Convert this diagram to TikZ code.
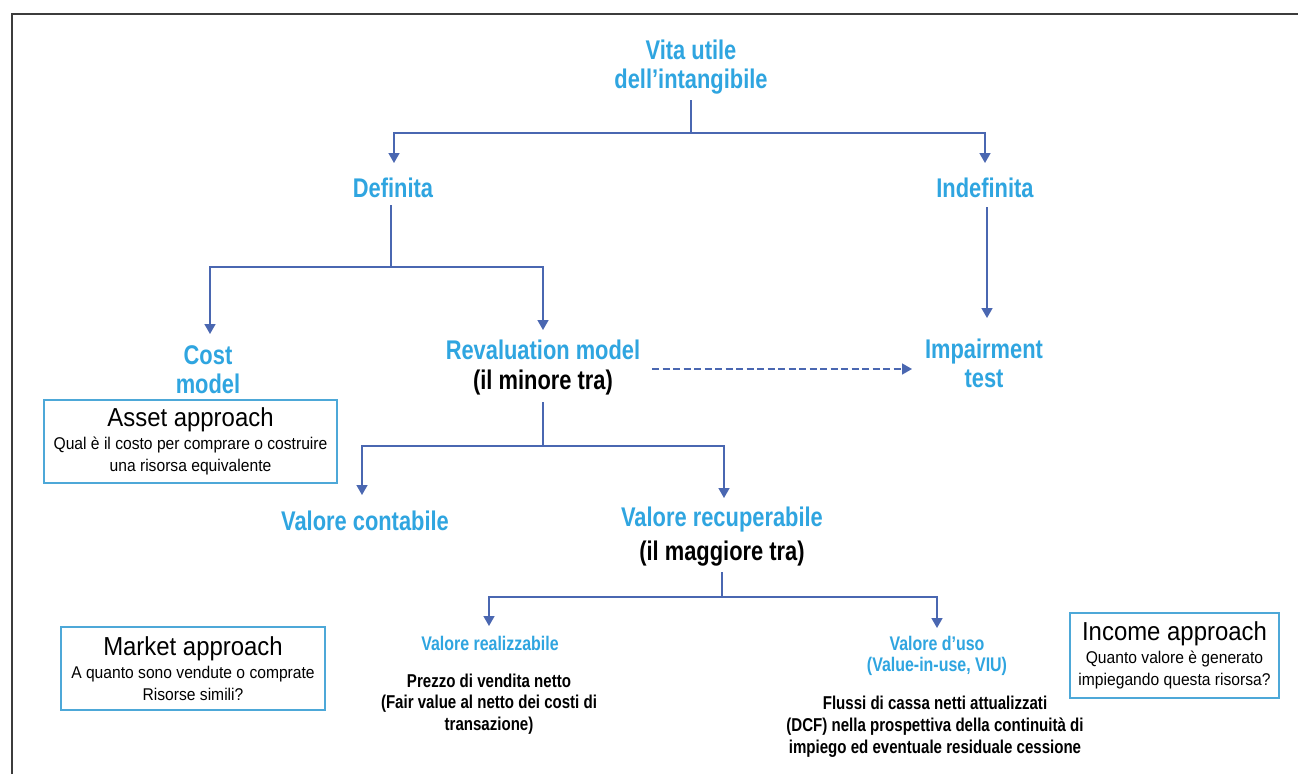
\documentclass[tikz,border=0pt]{standalone}
\usepackage{fontspec}
\setmainfont{Liberation Sans}
\newfontfamily\hdfont{Liberation Sans}[FakeStretch=0.81]
\newfontfamily\bxfont{Liberation Sans}[FakeStretch=0.92]
\usetikzlibrary{arrows.meta}
\definecolor{txtblue}{HTML}{2FA5E0}
\definecolor{connblue}{HTML}{4A67B1}
\definecolor{boxblue}{HTML}{4DA8D8}
\definecolor{framegray}{HTML}{3C3C3C}
\tikzset{
  big/.style={font=\hdfont\bfseries\fontsize{27}{29}\selectfont, text=txtblue, align=center, inner sep=0pt},
  bigblack/.style={font=\hdfont\bfseries\fontsize{27}{29}\selectfont, text=black, align=center, inner sep=0pt},
  mid/.style={font=\hdfont\bfseries\fontsize{19.7}{21.5}\selectfont, text=txtblue, align=center, inner sep=0pt},
  small/.style={font=\hdfont\bfseries\fontsize{18.6}{21.8}\selectfont, text=black, align=center, inner sep=0pt},
  conn/.style={draw=connblue, line width=1.6pt},
  arr/.style={conn, -{Triangle[width=11pt,length=10pt]}},
  dasharr/.style={arr, dash pattern=on 7pt off 3.5pt},
  appbox/.style={draw=boxblue, line width=2pt, align=center, inner sep=0pt, font=\bxfont\fontsize{17}{22}\selectfont},
  frameline/.style={draw=framegray, line width=2.2pt}
}
\begin{document}
\begin{tikzpicture}[x=1pt,y=-1pt]
\useasboundingbox (0,0) rectangle (1298,774);
\fill[white] (0,0) rectangle (1298,774);
\coordinate (fbl) at (12,774);
\coordinate (ftl) at (12,14);
\coordinate (ftr) at (1298,14);
\draw[frameline] (fbl) -- (ftl) -- (ftr);

% headings
\node[big] (vita) at (691,67) {Vita utile\\dell’intangibile};
\node[big] (def) at (393,188) {Definita};
\node[big] (indef) at (985,188) {Indefinita};
\node[big] (cost) at (208,370) {Cost\\model};
\node[big] (reval) at (543,350) {Revaluation model};
\node[bigblack] (minore) at (543,383) {(il minore tra)};
\node[big] (imp) at (984,363) {Impairment\\test};
\node[big] (cont) at (365,521) {Valore contabile};
\node[big] (recup) at (722,520) {Valore recuperabile};
\node[bigblack] (magg) at (722,554) {(il maggiore tra)};
\node[mid] (realiz) at (490,643) {Valore realizzabile};
\node[small] (prezzo) at (489,704) {Prezzo di vendita netto\\(Fair value al netto dei costi di\\transazione)};
\node[mid] (uso) at (937,656) {Valore d’uso\\(Value-in-use, VIU)};
\node[small] (flussi) at (935,727) {Flussi di cassa netti attualizzati\\(DCF) nella prospettiva della continuità di\\impiego ed eventuale residuale cessione};

% boxes
\node[appbox, minimum width=293pt, minimum height=83pt] (asset) at (190.5,441.5)
  {{\fontsize{26}{26}\selectfont Asset approach}\\[1pt]Qual è il costo per comprare o costruire\\una risorsa equivalente};
\node[appbox, minimum width=264pt, minimum height=83pt] (market) at (193,668.5)
  {{\fontsize{26}{26}\selectfont Market approach}\\[1pt]A quanto sono vendute o comprate\\Risorse simili?};
\node[appbox, minimum width=209pt, minimum height=85pt] (income) at (1174.5,655.5)
  {{\fontsize{26}{26}\selectfont Income approach}\\[1pt]Quanto valore è generato\\impiegando questa risorsa?};

% junctions and arrow ends
\coordinate (v0) at (691,100);
\coordinate (v1) at (691,133);
\coordinate (defin) at (394,163);
\coordinate (indefin) at (985,163);
\coordinate (d0) at (391,205);
\coordinate (d1) at (391,267);
\coordinate (costin) at (210,334);
\coordinate (revin) at (543,330);
\coordinate (i0) at (987,207);
\coordinate (impin) at (987,318);
\coordinate (da0) at (652,369);
\coordinate (da1) at (912,369);
\coordinate (r0) at (543,402);
\coordinate (r1) at (543,446);
\coordinate (contin) at (362,495);
\coordinate (recin) at (724,498);
\coordinate (m0) at (722,572);
\coordinate (m1) at (722,597);
\coordinate (realin) at (489,626);
\coordinate (usoin) at (937,628);

\draw[conn] (v0) -- (v1);
\draw[arr] (v1) -| (defin);
\draw[arr] (v1) -| (indefin);
\draw[conn] (d0) -- (d1);
\draw[arr] (d1) -| (costin);
\draw[arr] (d1) -| (revin);
\draw[arr] (i0) -- (impin);
\draw[dasharr] (da0) -- (da1);
\draw[conn] (r0) -- (r1);
\draw[arr] (r1) -| (contin);
\draw[arr] (r1) -| (recin);
\draw[conn] (m0) -- (m1);
\draw[arr] (m1) -| (realin);
\draw[arr] (m1) -| (usoin);
\end{tikzpicture}
\end{document}
